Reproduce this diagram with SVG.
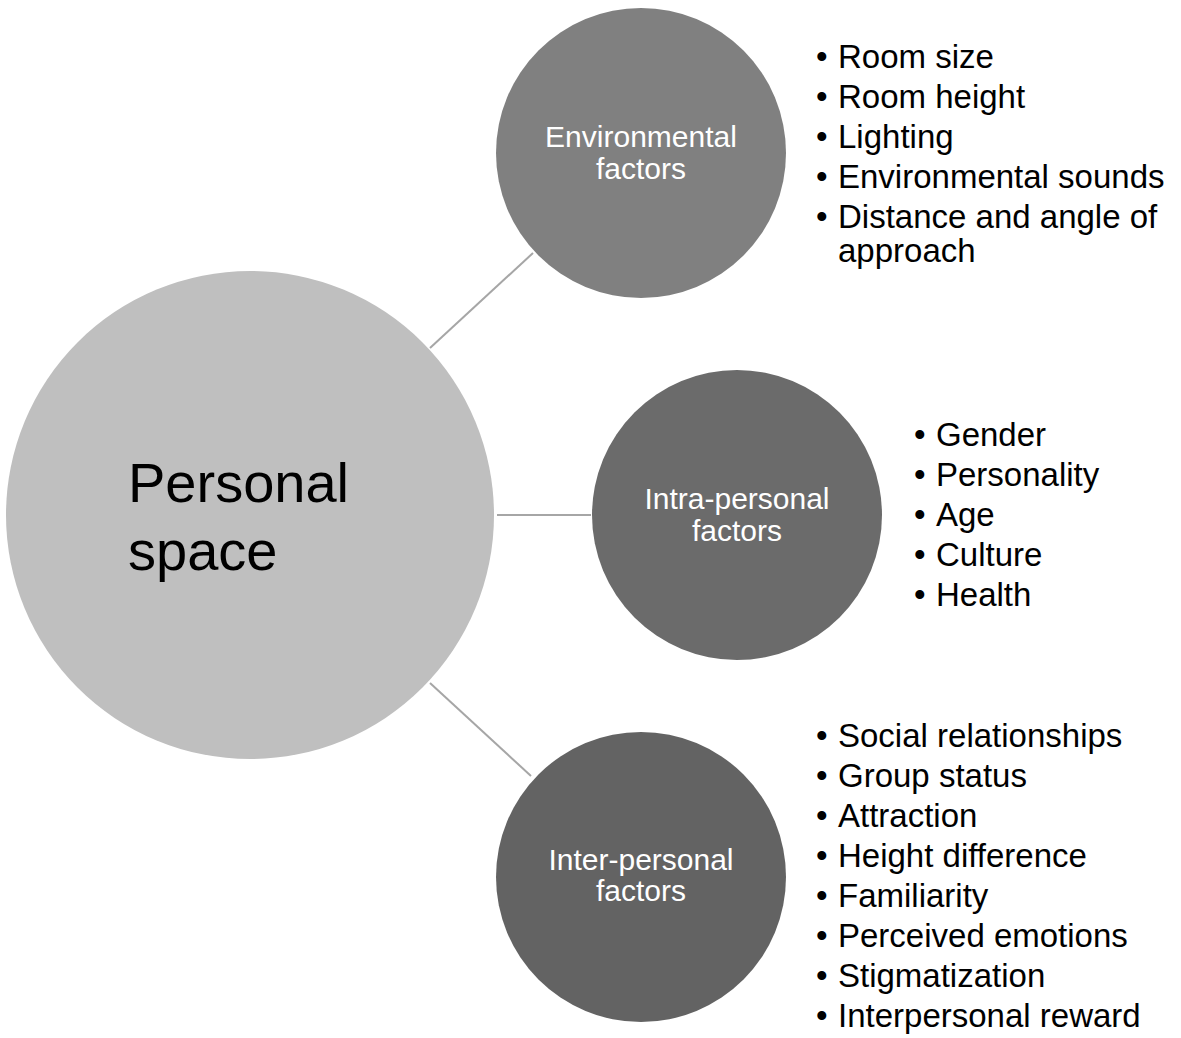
<svg xmlns="http://www.w3.org/2000/svg" width="1181" height="1038" viewBox="0 0 1181 1038">
<style>
.lbl{font-family:"Liberation Sans",Arial,sans-serif;font-size:30px;fill:#ffffff;text-anchor:middle}
.main{font-family:"Liberation Sans",Arial,sans-serif;font-size:56px;fill:#000000}
.li{font-family:"Liberation Sans",Arial,sans-serif;font-size:33px;fill:#000000}
.conn{stroke:#a6a6a6;stroke-width:2;fill:none}
</style>
<rect width="1181" height="1038" fill="#ffffff"/>
<g id="connectors">
<line class="conn" x1="430" y1="348" x2="533" y2="253"/>
<line class="conn" x1="497" y1="515" x2="591" y2="515"/>
<line class="conn" x1="430" y1="683" x2="531" y2="776"/>
</g>
<g id="personal-space">
<circle cx="250" cy="515" r="244" fill="#bfbfbf"/>
<text class="main" x="128" y="502">Personal</text>
<text class="main" x="128" y="570">space</text>
</g>
<g id="environmental">
<circle cx="641" cy="153" r="145" fill="#808080"/>
<text class="lbl" x="641" y="147">Environmental</text>
<text class="lbl" x="641" y="179">factors</text>
</g>
<g id="intra">
<circle cx="737" cy="515" r="145" fill="#6b6b6b"/>
<text class="lbl" x="737" y="509">Intra-personal</text>
<text class="lbl" x="737" y="541">factors</text>
</g>
<g id="inter">
<circle cx="641" cy="877" r="145" fill="#636363"/>
<text class="lbl" x="641" y="870">Inter-personal</text>
<text class="lbl" x="641" y="901">factors</text>
</g>
<g id="env-list">
<text class="li" x="816" y="68">•</text><text class="li" x="838" y="68">Room size</text>
<text class="li" x="816" y="108">•</text><text class="li" x="838" y="108">Room height</text>
<text class="li" x="816" y="148">•</text><text class="li" x="838" y="148">Lighting</text>
<text class="li" x="816" y="188">•</text><text class="li" x="838" y="188">Environmental sounds</text>
<text class="li" x="816" y="228">•</text><text class="li" x="838" y="228">Distance and angle of</text>
<text class="li" x="838" y="262">approach</text>
</g>
<g id="intra-list">
<text class="li" x="914" y="446">•</text><text class="li" x="936" y="446">Gender</text>
<text class="li" x="914" y="486">•</text><text class="li" x="936" y="486">Personality</text>
<text class="li" x="914" y="526">•</text><text class="li" x="936" y="526">Age</text>
<text class="li" x="914" y="566">•</text><text class="li" x="936" y="566">Culture</text>
<text class="li" x="914" y="606">•</text><text class="li" x="936" y="606">Health</text>
</g>
<g id="inter-list">
<text class="li" x="816" y="747">•</text><text class="li" x="838" y="747">Social relationships</text>
<text class="li" x="816" y="787">•</text><text class="li" x="838" y="787">Group status</text>
<text class="li" x="816" y="827">•</text><text class="li" x="838" y="827">Attraction</text>
<text class="li" x="816" y="867">•</text><text class="li" x="838" y="867">Height difference</text>
<text class="li" x="816" y="907">•</text><text class="li" x="838" y="907">Familiarity</text>
<text class="li" x="816" y="947">•</text><text class="li" x="838" y="947">Perceived emotions</text>
<text class="li" x="816" y="987">•</text><text class="li" x="838" y="987">Stigmatization</text>
<text class="li" x="816" y="1027">•</text><text class="li" x="838" y="1027">Interpersonal reward</text>
</g>
</svg>
